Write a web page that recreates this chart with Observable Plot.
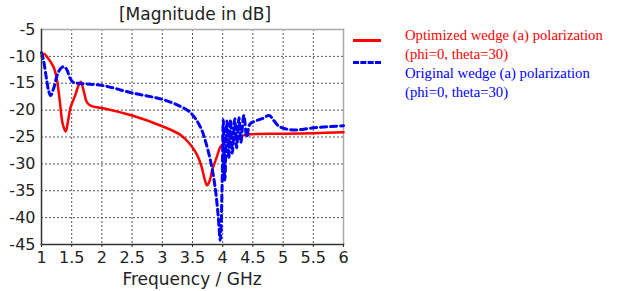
<!DOCTYPE html>
<html><head><meta charset="utf-8">
<script src="https://cdn.jsdelivr.net/npm/d3@7"></script>
<script src="https://cdn.jsdelivr.net/npm/@observablehq/plot@0.6"></script>
<style>
body{margin:0;background:#fff;}
#wrap{position:relative;width:620px;height:291px;overflow:hidden;}
#title{position:absolute;left:0;width:390px;top:4px;text-align:center;font:17px "DejaVu Sans",sans-serif;color:#222;}
#xlab{position:absolute;left:0;width:384px;top:269px;text-align:center;font:17px "DejaVu Sans",sans-serif;color:#222;}
.lg{position:absolute;font:14.7px "Liberation Serif","Times New Roman",serif;line-height:18.5px;white-space:nowrap;}
.sw{position:absolute;left:353px;width:28px;height:0;}
</style></head>
<body><div id="wrap"></div>
<script>
const optFreq = [1.0,1.04,1.1,1.2,1.25,1.3,1.35,1.4,1.44,1.48,1.55,1.62,1.65,1.7,1.75,1.82,2.0,2.5,3.0,3.3,3.45,3.57,3.65,3.7,3.74,3.78,3.83,3.9,3.96,4.05,4.12,4.2,4.3,4.45,5.0,5.5,6.0];
const optDb   = [-10,-9.5,-10.2,-12,-14,-18,-22.5,-24,-22,-19.5,-17.5,-15.2,-14.7,-16.5,-18.5,-19.2,-19.6,-21,-23,-24.6,-26.2,-28.2,-30.5,-32.8,-34,-33.3,-31,-28.8,-26.9,-25.8,-25.3,-25,-24.8,-24.5,-24.4,-24.3,-24.1];
const origFreq = [1.0,1.03,1.08,1.12,1.15,1.2,1.26,1.32,1.37,1.42,1.47,1.52,1.6,2.0,2.5,3.0,3.3,3.45,3.55,3.65,3.72,3.8,3.87,3.92,3.96,3.99,4.01,4.035,4.07,4.1,4.13,4.16,4.2,4.23,4.27,4.3,4.35,4.4,4.45,4.55,4.65,4.77,4.85,4.93,5.05,5.2,5.5,6.0];
const origDb   = [-9.3,-10.5,-14,-16.5,-17.3,-16,-13.5,-12.2,-11.9,-12.5,-14,-14.8,-15,-15.4,-16.8,-18,-19.3,-20.3,-21.6,-23.6,-26,-29.5,-34,-39,-44.2,-34,-21.8,-33,-22,-29,-21.8,-28,-21.6,-27,-21.4,-26,-21,-25,-22.6,-22,-21.6,-21,-22,-23,-23.5,-23.7,-23.3,-22.9];
const xTicks = [1,1.5,2,2.5,3,3.5,4,4.5,5,5.5,6];
const yTicks = [-5,-10,-15,-20,-25,-30,-35,-40,-45];
const seriesNames = ["Optimized wedge (a) polarization","Original wedge (a) polarization"];
const seriesSub = "(phi=0, theta=30)";
const titleText = "[Magnitude in dB]";
const xLabel = "Frequency / GHz";

const opt = optFreq.map((f,i)=>({f, db: optDb[i]}));
const orig = origFreq.map((f,i)=>({f, db: origDb[i]}));
const fmt = d => String(d);

const chart = Plot.plot({
  width: 620, height: 291,
  marginLeft: 41, marginRight: 277, marginTop: 29, marginBottom: 47,
  style: {fontFamily: "DejaVu Sans, sans-serif", fontSize: "16px", color: "#222", background: "transparent"},
  x: {domain: [1,6]},
  y: {domain: [-45,-5]},
  marks: [
    Plot.gridX(xTicks, {stroke: "#555", strokeOpacity: 1, strokeDasharray: "2,2", strokeWidth: 1}),
    Plot.gridY(yTicks, {stroke: "#555", strokeOpacity: 1, strokeDasharray: "2,2", strokeWidth: 1}),
    Plot.frame({anchor: "top", stroke: "#aaa", strokeWidth: 1.5}),
    Plot.frame({anchor: "right", stroke: "#aaa", strokeWidth: 1.5}),
    Plot.line(opt, {x: "f", y: "db", stroke: "#ff0000", strokeWidth: 2.5, curve: "catmull-rom"}),
    Plot.line(orig, {x: "f", y: "db", stroke: "#0000ff", strokeWidth: 3, strokeDasharray: "6,4", curve: "catmull-rom"}),
    Plot.axisX(xTicks, {tickSize: 3, tickPadding: 4, fontSize: 16, tickFormat: fmt, label: null}),
    Plot.axisY(yTicks, {tickSize: 0, tickPadding: 6, fontSize: 16, tickFormat: fmt, label: null}),
    Plot.frame({anchor: "left", stroke: "#333", strokeWidth: 1.5}),
    Plot.frame({anchor: "bottom", stroke: "#333", strokeWidth: 1.5})
  ]
});
const wrap = document.getElementById("wrap");
wrap.appendChild(chart);
const t = document.createElement("div"); t.id="title"; t.textContent = titleText; wrap.appendChild(t);
const xl = document.createElement("div"); xl.id="xlab"; xl.textContent = xLabel; wrap.appendChild(xl);
function addLegend(top, color, name, swTop, dashed){
  const d = document.createElement("div"); d.className="lg"; d.style.left="405px"; d.style.top=top+"px"; d.style.color=color;
  d.innerHTML = name + "<br>" + seriesSub; wrap.appendChild(d);
  const s = document.createElement("div"); s.className="sw"; s.style.top=swTop+"px";
  s.style.borderTop = dashed ? "3px dashed "+color : "3px solid "+color; wrap.appendChild(s);
}
addLegend(26, "#ff0000", seriesNames[0], 39, false);
addLegend(64, "#0000ff", seriesNames[1], 61, true);
</script></body></html>
